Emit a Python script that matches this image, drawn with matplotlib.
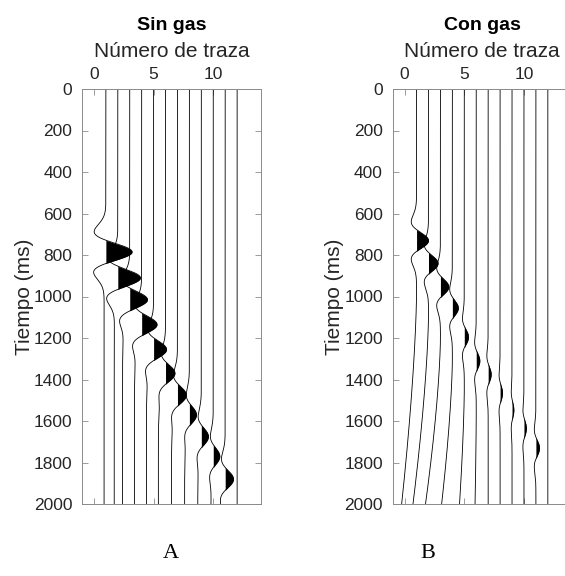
import numpy as np
import matplotlib
matplotlib.use("Agg")
import matplotlib.pyplot as plt

# Trace positions (trace number) shared by both sections
trace_numbers = [1, 2, 3, 4, 5, 6, 7, 8, 9, 10, 11, 12]

# Sin gas: arrival time (ms), peak amplitude (trace units), late-time offset
sin_gas_times = [785, 910, 1015, 1135, 1255, 1370, 1475, 1570, 1675, 1770, 1880, 1990]
sin_gas_amps = [2.2, 1.9, 1.5, 1.3, 1.1, 0.8, 0.75, 0.6, 0.6, 0.55, 0.7, 0.0]
sin_gas_tail = [0.15, 0.3, 0.6, 0.6, 0.6, 0.6, 0.5, 0.4, 0.3, 0.2, 0.3, 0.0]

# Con gas
con_gas_times = [730, 840, 953, 1055, 1195, 1310, 1375, 1465, 1547, 1635, 1730, 1820]
con_gas_amps = [1.0, 0.8, 0.7, 0.5, 0.35, 0.3, 0.25, 0.2, 0.15, 0.2, 0.3, 0.0]
con_gas_tail = [1.25, 1.3, 1.25, 0.9, 0.4, 0.1, 0.0, 0.0, 0.0, 0.0, 0.0, 0.0]

time_ticks = list(range(0, 2001, 200))
trace_ticks = [0, 5, 10]

GRAY = "#8a8a8a"
TEXT = "#262626"
SANS = ["Liberation Sans", "DejaVu Sans"]
SERIF = ["Liberation Serif", "DejaVu Serif"]

t = np.linspace(0, 2000, 2001)


def ricker(tau_ms, f):
    a = (np.pi * f * tau_ms / 1000.0) ** 2
    return (1 - 2 * a) * np.exp(-a)


def trace_sin_gas(t0, amp, tail):
    w = amp * ricker(t - t0, 4.0)
    step = 1.0 / (1.0 + np.exp(-(t - t0 - 130) / 35.0))
    return w - tail * step


def trace_con_gas(t0, amp, tail):
    w = amp * ricker(t - t0, 4.3)
    start = t0 + 250
    ramp = np.clip((t - start) / max(2000 - start, 1), 0, None) ** 1.5
    return w - tail * ramp


def draw_section(ax, times, amps, tails, builder, title):
    for x0, t0, amp, tail in zip(trace_numbers, times, amps, tails):
        y = x0 + builder(t0, amp, tail)
        ax.fill_betweenx(t, x0, y, where=y > x0, interpolate=True,
                         color="black", linewidth=0)
        ax.plot(y, t, color="black", linewidth=0.6)

    ax.set_xlim(-1, 14)
    ax.set_ylim(2000, 0)
    ax.set_xticks(trace_ticks)
    ax.set_yticks(time_ticks)
    ax.xaxis.set_label_position("top")
    ax.xaxis.tick_top()
    ax.tick_params(direction="in", top=True, bottom=True, left=True, right=True,
                   labeltop=True, labelbottom=False, length=4, width=0.6,
                   color=GRAY, labelcolor=TEXT, labelsize=12.5, pad=7)
    ax.tick_params(axis="x", pad=5)
    for lab in ax.get_xticklabels() + ax.get_yticklabels():
        lab.set_family(SANS)
    for sp in ax.spines.values():
        sp.set_color(GRAY)
        sp.set_linewidth(0.7)

    ax.set_xlabel("Número de traza", fontsize=15, family=SANS, color=TEXT, labelpad=7)
    ax.set_ylabel("Tiempo (ms)", fontsize=15, family=SANS, color=TEXT)
    ax.yaxis.set_label_coords(-0.27, 0.5)
    ax.set_title(title, fontsize=14, fontweight="bold", family=SANS, pad=9)


fig = plt.figure(figsize=(5.65, 5.76), dpi=100)
W, H = 565.0, 576.0
ax_a = fig.add_axes([82 / W, 1 - 504 / H, 179 / W, 415 / H])
ax_b = fig.add_axes([392.7 / W, 1 - 504 / H, 179 / W, 415 / H])

draw_section(ax_a, sin_gas_times, sin_gas_amps, sin_gas_tail, trace_sin_gas, "Sin gas")
draw_section(ax_b, con_gas_times, con_gas_amps, con_gas_tail, trace_con_gas, "Con gas")

fig.text(171 / W, 1 - 553 / H, "A", ha="center", va="center", fontsize=16, family=SERIF)
fig.text(428 / W, 1 - 553 / H, "B", ha="center", va="center", fontsize=16, family=SERIF)

fig.savefig("out.png", dpi=100, facecolor="white")
